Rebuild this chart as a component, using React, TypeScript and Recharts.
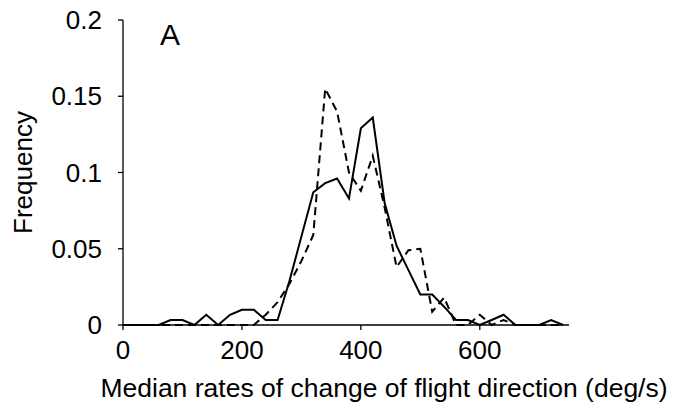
import React from 'react';
import { LineChart, Line, XAxis, YAxis } from 'recharts';

// bin centres (deg/s)
const rates = [
  0, 20, 40, 60, 80, 100, 120, 140, 160, 180, 200, 220, 240, 260, 280, 300, 320, 340, 360,
  380, 400, 420, 440, 460, 480, 500, 520, 540, 560, 580, 600, 620, 640, 660, 680, 700, 720, 740,
];

// solid line
const solidFreq = [
  0, 0, 0, 0, 0.0033, 0.0033, 0, 0.0067, 0, 0.0067, 0.01, 0.01, 0.0033, 0.0033, 0.029, 0.058,
  0.087, 0.093, 0.096, 0.083, 0.129, 0.136, 0.08, 0.052, 0.036, 0.02, 0.02, 0.012, 0.0033,
  0.0033, 0, 0.0033, 0.0067, 0, 0, 0, 0.0033, 0,
];

// dashed line
const dashedFreq = [
  0, 0, 0, 0, 0, 0, 0, 0, 0, 0, 0, 0, 0.0067, 0.015, 0.027, 0.042, 0.059, 0.155, 0.14, 0.1,
  0.088, 0.111, 0.077, 0.038, 0.049, 0.05, 0.0087, 0.018, 0, 0, 0.0067, 0, 0.0033, 0, 0, 0, 0, 0,
];

const xTicks = [0, 200, 400, 600];
const yTicks = [0, 0.05, 0.1, 0.15, 0.2];

const data = rates.map((r, i) => ({ rate: r, solid: solidFreq[i], dashed: dashedFreq[i] }));

const FONT = '"Liberation Sans", Arial, sans-serif';
const tickStyle = { fill: '#000', fontSize: 26, fontFamily: FONT };

const XTitle = ({ viewBox }: any) => (
  <text
    x={viewBox.x + viewBox.width / 2 + 38}
    y={397}
    textAnchor="middle"
    fill="#000"
    fontSize={26.5}
    fontFamily={FONT}
  >
    Median rates of change of flight direction (deg/s)
  </text>
);

const YTitle = ({ viewBox }: any) => {
  const cy = viewBox.y + viewBox.height / 2;
  return (
    <text
      x={23}
      y={cy}
      transform={`rotate(-90, 23, ${cy})`}
      textAnchor="middle"
      dominantBaseline="central"
      fill="#000"
      fontSize={26}
      fontFamily={FONT}
    >
      Frequency
    </text>
  );
};

export default function App() {
  return (
    <div style={{ position: 'absolute', left: 0, top: 0, width: 688, height: 408, background: '#fff' }}>
      <LineChart
        width={688}
        height={408}
        data={data}
        margin={{ top: 20, right: 119, bottom: 0, left: 0 }}
      >
        <XAxis
          dataKey="rate"
          type="number"
          domain={[0, 750]}
          ticks={xTicks}
          interval={0}
          height={83}
          tick={tickStyle}
          tickSize={5}
          tickMargin={11}
          axisLine={{ stroke: '#000', strokeWidth: 1.3 }}
          tickLine={{ stroke: '#000', strokeWidth: 1.3 }}
          label={{ content: XTitle }}
        />
        <YAxis
          type="number"
          domain={[0, 0.2]}
          ticks={yTicks}
          interval={0}
          width={123}
          tick={tickStyle}
          tickSize={5}
          tickMargin={16}
          tickFormatter={(v: number) => String(v)}
          axisLine={{ stroke: '#000', strokeWidth: 1.3 }}
          tickLine={{ stroke: '#000', strokeWidth: 1.3 }}
          label={{ content: YTitle }}
        />
        <Line
          type="linear"
          dataKey="dashed"
          stroke="#000"
          strokeWidth={2}
          strokeDasharray="8 5"
          dot={false}
          isAnimationActive={false}
        />
        <Line
          type="linear"
          dataKey="solid"
          stroke="#000"
          strokeWidth={2}
          dot={false}
          isAnimationActive={false}
        />
      </LineChart>
      <div
        style={{
          position: 'absolute',
          left: 150,
          top: 19.6,
          width: 40,
          textAlign: 'center',
          fontFamily: FONT,
          fontSize: 30,
          lineHeight: '30px',
          color: '#000',
        }}
      >
        A
      </div>
    </div>
  );
}
